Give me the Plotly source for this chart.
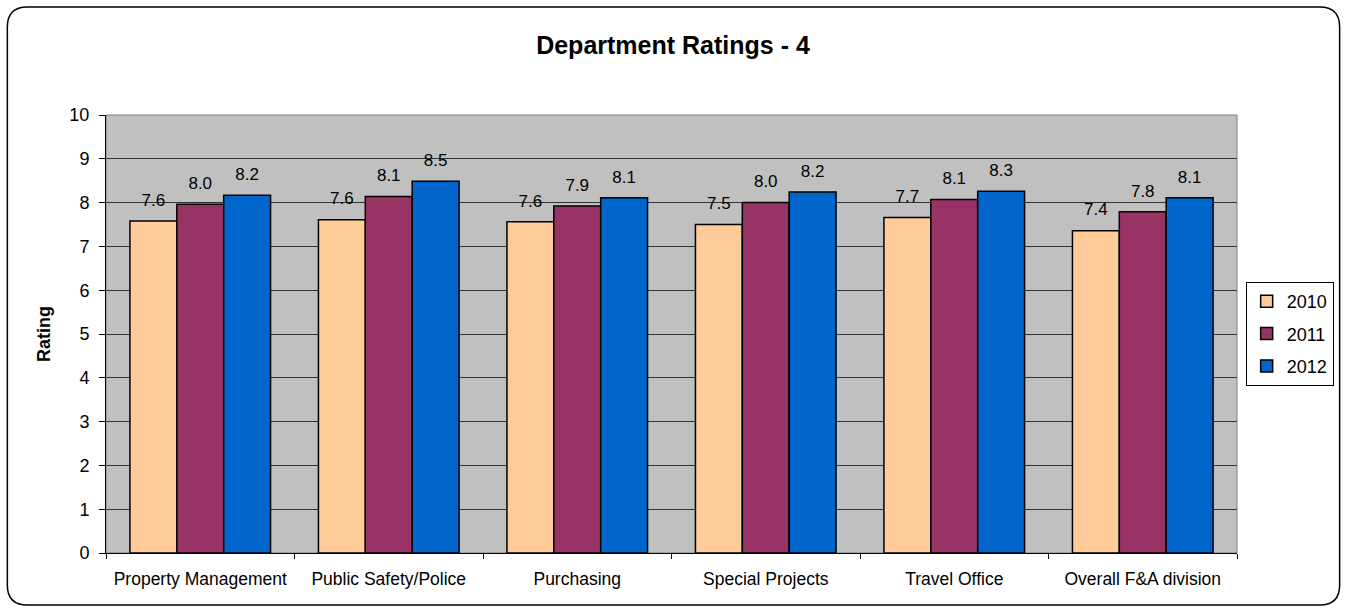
import plotly.graph_objects as go

# Data
departemen = [
    "Property Management",
    "Public Safety/Police",
    "Purchasing",
    "Special Projects",
    "Travel Office",
    "Overall F&A division",
]
rating_2010 = [7.58, 7.61, 7.56, 7.50, 7.66, 7.36]
rating_2011 = [7.96, 8.14, 7.92, 8.00, 8.07, 7.79]
rating_2012 = [8.17, 8.49, 8.11, 8.24, 8.26, 8.11]
tahun = ["2010", "2011", "2012"]

WARNA = {"2010": "#FFCC99", "2011": "#993366", "2012": "#0066CC"}
FONT = "Liberation Sans, Arial, sans-serif"
GAP = 0.254

# posisi area plot (piksel)
PL, PR, PT, PB = 106, 1241, 115, 553
PW, PH = PR - PL, PB - PT

fig = go.Figure()

for th, nilai in zip(tahun, [rating_2010, rating_2011, rating_2012]):
    fig.add_trace(go.Bar(
        x=departemen,
        y=nilai,
        name=th,
        offsetgroup=th,
        legendgroup=th,
        marker=dict(color=WARNA[th], line=dict(color="black", width=1.5)),
        hoverinfo="x+y+name",
    ))
    # label nilai di atas batang
    fig.add_trace(go.Scatter(
        x=departemen,
        y=nilai,
        offsetgroup=th,
        mode="markers+text",
        marker=dict(size=16, opacity=0),
        text=[f"{v:.1f}" for v in nilai],
        textposition="top center",
        textfont=dict(family=FONT, size=17, color="black"),
        showlegend=False,
        hoverinfo="skip",
    ))

fig.update_layout(
    width=1346,
    height=610,
    autosize=False,
    margin=dict(l=PL, r=1346 - PR, t=PT, b=610 - PB),
    paper_bgcolor="white",
    plot_bgcolor="#C0C0C0",
    barmode="group",
    bargap=GAP,
    bargroupgap=0,
    scattermode="group",
    scattergap=GAP,
    font=dict(family=FONT, size=17, color="black"),
    title=dict(
        text="<b>Department Ratings - 4</b>",
        x=0.5,
        xanchor="center",
        y=1 - 45 / 610,
        yanchor="middle",
        font=dict(family=FONT, size=25, color="black"),
    ),
    legend=dict(
        x=(1338 - PL) / PW,
        y=(PB - 282) / PH,
        xanchor="right",
        yanchor="top",
        bordercolor="black",
        borderwidth=1,
        bgcolor="white",
        font=dict(family=FONT, size=18),
        traceorder="grouped",
        tracegroupgap=6,
    ),
)

fig.update_yaxes(
    range=[0, 10],
    dtick=1,
    showgrid=True,
    gridcolor="#333333",
    gridwidth=1,
    showline=True,
    linecolor="black",
    linewidth=1,
    ticks="outside",
    ticklen=6,
    tickcolor="black",
    ticklabelstandoff=6,
    tickfont=dict(family=FONT, size=18),
    zeroline=False,
    title=dict(text="<b>Rating</b>", font=dict(family=FONT, size=18), standoff=14),
)
fig.update_xaxes(
    showline=True,
    linecolor="black",
    linewidth=1,
    ticks="outside",
    ticklen=5,
    tickcolor="black",
    tickson="boundaries",
    ticklabelstandoff=10,
    tickfont=dict(family=FONT, size=17.5),
    showgrid=False,
)

# garis tepi area plot (abu-abu)
fig.add_shape(type="rect", xref="paper", yref="paper", x0=0, x1=1, y0=0, y1=1,
              line=dict(color="#808080", width=1), layer="below")

# bingkai luar dengan sudut membulat
x0, x1 = (7 - PL) / PW, (1344 - PL) / PW
yt, yb = (PB - 7) / PH, (PB - 605) / PH
rx, ry = 20 / PW, 20 / PH
path = (
    f"M {x0 + rx},{yt} L {x1 - rx},{yt} Q {x1},{yt} {x1},{yt - ry} "
    f"L {x1},{yb + ry} Q {x1},{yb} {x1 - rx},{yb} "
    f"L {x0 + rx},{yb} Q {x0},{yb} {x0},{yb + ry} "
    f"L {x0},{yt - ry} Q {x0},{yt} {x0 + rx},{yt} Z"
)
fig.add_shape(type="path", xref="paper", yref="paper", path=path,
              line=dict(color="black", width=1.5))

fig.write_html(
    "out.html",
    config={"responsive": False, "displayModeBar": False},
    post_script="document.body.style.margin='0';document.body.style.overflow='hidden';",
)
